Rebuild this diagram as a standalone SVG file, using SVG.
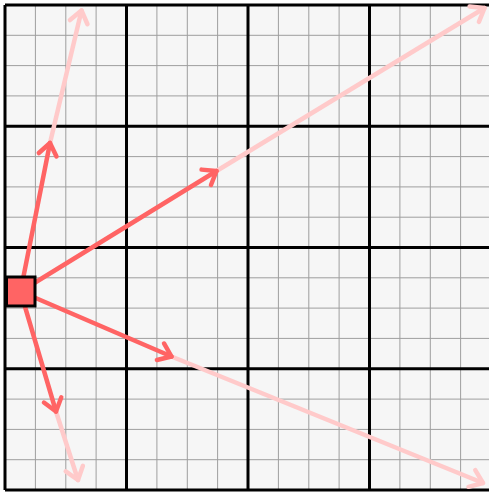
<svg xmlns="http://www.w3.org/2000/svg" width="489" height="492" viewBox="0 0 489 492">
<style>
.minor{stroke:#9e9e9e;stroke-width:1;fill:none}
.major{stroke:#000;stroke-width:3;fill:none}
.dark{stroke:#ff6464;stroke-width:4.5;fill:none;stroke-linecap:round}
.light{stroke:#ffcaca;stroke-width:4.5;fill:none;stroke-linecap:round}
</style>
<defs>
<marker id="hd" markerUnits="userSpaceOnUse" markerWidth="30" markerHeight="30" refX="0" refY="0" viewBox="-15 -15 30 30" orient="auto" overflow="visible">
<path d="M-12,-9 L0,0 L-12,9" fill="none" stroke="#ff6464" stroke-width="4.5" stroke-linecap="round" stroke-linejoin="round"/>
</marker>
<marker id="hl" markerUnits="userSpaceOnUse" markerWidth="30" markerHeight="30" refX="0" refY="0" viewBox="-15 -15 30 30" orient="auto" overflow="visible">
<path d="M-12,-9 L0,0 L-12,9" fill="none" stroke="#ffcaca" stroke-width="4.5" stroke-linecap="round" stroke-linejoin="round"/>
</marker>
</defs>
<g id="grid">
<rect x="5" y="5" width="486" height="485" fill="#f6f6f6"/>
<path class="minor" d="M35.4,5V490M65.8,5V490M96.1,5V490M156.9,5V490M187.3,5V490M217.6,5V490M278.4,5V490M308.8,5V490M339.1,5V490M399.9,5V490M430.3,5V490M460.6,5V490
M5,35.3H491M5,65.6H491M5,95.9H491M5,156.6H491M5,186.9H491M5,217.2H491M5,277.8H491M5,308.1H491M5,338.4H491M5,399.1H491M5,429.4H491M5,459.7H491"/>
<path class="major" d="M5,5V490M126.5,5V490M248,5V490M369.5,5V490M491,5V490M5,5H491M5,126.25H491M5,247.5H491M5,368.75H491M5,490H491"/>
</g>
<g id="connectors">
<line class="light" x1="50" y1="143" x2="81.5" y2="10.5" marker-end="url(#hl)"/>
<line class="light" x1="216.5" y1="171" x2="484.5" y2="8" marker-end="url(#hl)"/>
<line class="light" x1="171.5" y1="356.5" x2="483" y2="483" marker-end="url(#hl)"/>
<line class="light" x1="56" y1="411.5" x2="78" y2="480" marker-end="url(#hl)"/>
<line class="dark" x1="20.5" y1="291.5" x2="50" y2="143" marker-end="url(#hd)"/>
<line class="dark" x1="20.5" y1="291.5" x2="216.5" y2="171" marker-end="url(#hd)"/>
<line class="dark" x1="20.5" y1="291.5" x2="171.5" y2="356.5" marker-end="url(#hd)"/>
<line class="dark" x1="20.5" y1="291.5" x2="56" y2="411.5" marker-end="url(#hd)"/>
</g>
<g id="origin">
<rect x="6.5" y="277" width="28.5" height="29" fill="#ff6464" stroke="#000" stroke-width="3"/>
</g>
</svg>
